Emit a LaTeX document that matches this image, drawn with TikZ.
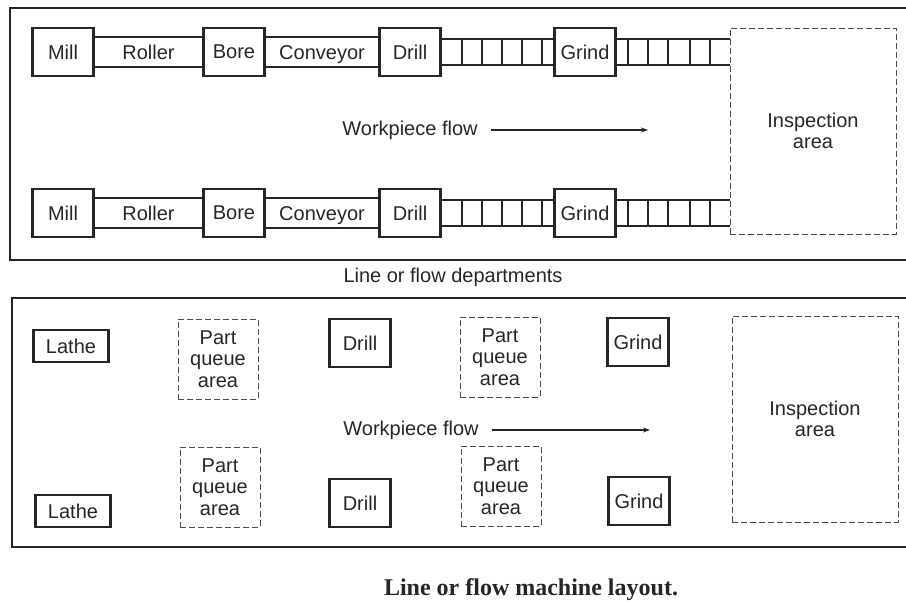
\documentclass[tikz,border=0pt]{standalone}
\usepackage{fontspec}
\setmainfont{Liberation Sans}
\newfontfamily\capfont{Liberation Serif}
\usetikzlibrary{arrows.meta,positioning}

\begin{document}
\begin{tikzpicture}[
  x=1pt,y=-1pt,
  font=\fontsize{20}{21.5}\selectfont,
  text=black!85,
  box/.style={draw=black!85,align=center,inner sep=0pt},
  mach/.style={box,line width=2.4pt,minimum width=61pt,minimum height=48pt},
  lathe/.style={box,line width=2.4pt,minimum width=75pt,minimum height=32pt},
  dsh/.style={draw=black!70,line width=0.9pt,dash pattern=on 6pt off 3pt},
  pq/.style={box,dsh,minimum width=80pt,minimum height=80pt},
  insp/.style={box,dsh,minimum width=166pt,minimum height=206pt},
  lbl/.style={inner sep=0pt,text height=14.5pt,text depth=0pt},
  frame/.style={draw=black!85,line width=1.8pt},
  rl/.style={draw=black!85,line width=1.5pt},
  ar/.style={-{Stealth[length=7pt,width=5pt]},draw=black!85,line width=1.3pt}]

\useasboundingbox (0,0) rectangle (906,602);

% line or flow departments
\draw[frame] (10,8) rectangle (910,260);
\node[insp] (insp1) at (813,131) {Inspection\\area};

\foreach \r/\y in {a/52,b/213} {
  \node[mach] (mill\r)  at (63,\y)  {Mill};
  \node[mach] (bore\r)  at (234,\y) {Bore};
  \node[mach] (drill\r) at (410,\y) {Drill};
  \node[mach] (grind\r) at (585,\y) {Grind};
  \draw[rl] ([yshift=15pt]mill\r.east) -- ([yshift=15pt]bore\r.west);
  \draw[rl] ([yshift=-15pt]mill\r.east) -- ([yshift=-15pt]bore\r.west);
  \path (mill\r) -- node[lbl] {Roller} (bore\r);
  \draw[rl] ([yshift=15pt]bore\r.east) -- ([yshift=15pt]drill\r.west);
  \draw[rl] ([yshift=-15pt]bore\r.east) -- ([yshift=-15pt]drill\r.west);
  \path (bore\r) -- node[lbl] {Conveyor} (drill\r);
  \draw[rl] ([yshift=13pt]drill\r.east) -- ([yshift=13pt]grind\r.west);
  \draw[rl] ([yshift=-13pt]drill\r.east) -- ([yshift=-13pt]grind\r.west);
  \draw[rl] ([yshift=13pt]grind\r.east) -- ([yshift=13pt]grind\r.east -| insp1.west);
  \draw[rl] ([yshift=-13pt]grind\r.east) -- ([yshift=-13pt]grind\r.east -| insp1.west);
  \foreach \x in {462,482,502,522,542,628,648,668,690,710}
    \draw[rl] (\x,\y-13) -- (\x,\y+13);
}

\node (wf1) at (410,130) {Workpiece flow};
\coordinate (wf1e) at (648,130);
\draw[ar] ([xshift=10pt]wf1.east) -- (wf1e);

\node (dep) at (453,277) {Line or flow departments};

% line or flow machine layout
\draw[frame] (12,298) rectangle (910,547);
\node[insp] (insp2) at (815,419) {Inspection\\area};

\node[lathe] (lathe1) at (71,346) {Lathe};
\node[pq] (pq1) at (218,359) {Part\\queue\\area};
\node[mach] (drl1) at (360,343) {Drill};
\node[pq] (pq2) at (500,357) {Part\\queue\\area};
\node[mach] (grd1) at (638,342) {Grind};

\node[lathe] (lathe2) at (73,511) {Lathe};
\node[pq] (pq3) at (220,487) {Part\\queue\\area};
\node[mach] (drl2) at (360,503) {Drill};
\node[pq] (pq4) at (501,486) {Part\\queue\\area};
\node[mach] (grd2) at (639,501) {Grind};

\node (wf2) at (411,430) {Workpiece flow};
\coordinate (wf2e) at (650,430);
\draw[ar] ([xshift=10pt]wf2.east) -- (wf2e);

\node[font=\capfont\bfseries\fontsize{24}{28}\selectfont] (cap) at (531,590)
  {Line or flow machine layout.};
\end{tikzpicture}
\end{document}
